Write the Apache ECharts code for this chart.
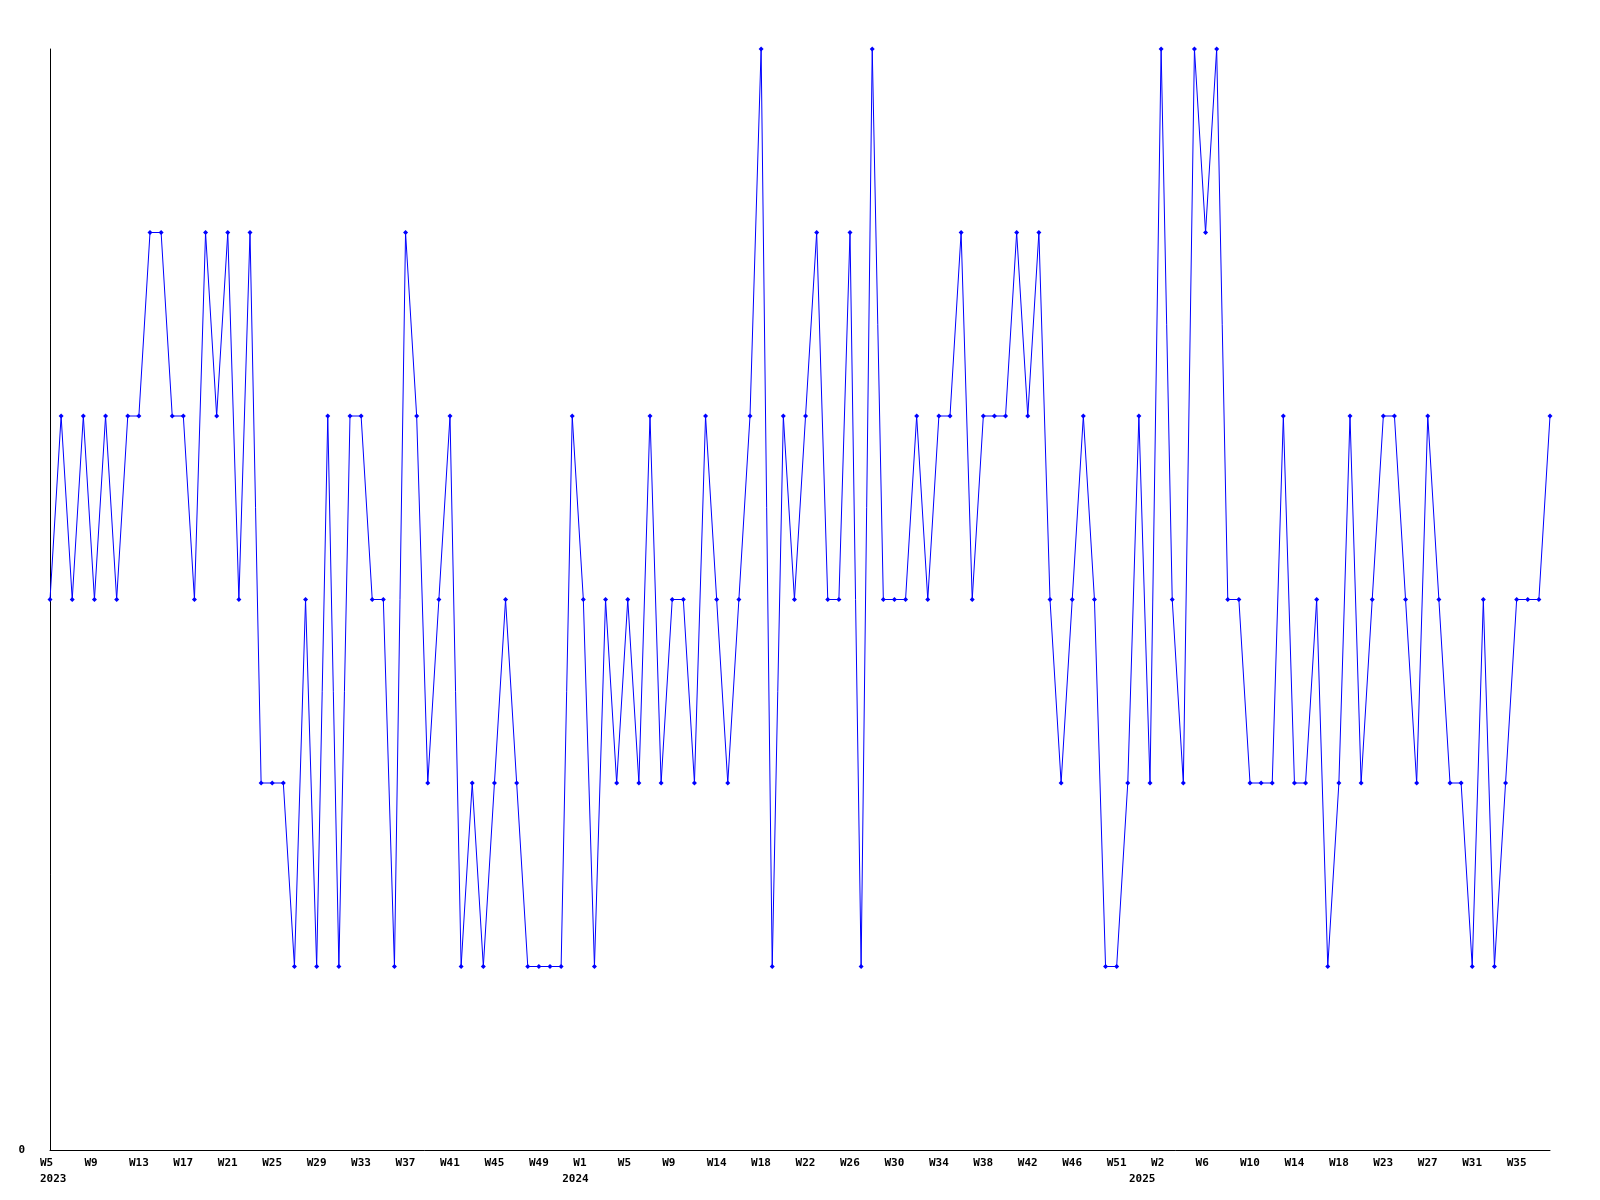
<!DOCTYPE html>
<html>
<head>
<meta charset="utf-8">
<script src="https://cdn.jsdelivr.net/npm/echarts@6/dist/echarts.min.js"></script>
<style>html,body{margin:0;padding:0;background:#fff;}#chart{width:1600px;height:1200px;}</style>
</head>
<body>
<div id="chart"></div>
<script>
// weekly values, 2023 W5 onward
const values = [
  3,4,3,4,3,4,3,4,4,5,
  5,4,4,3,5,4,5,3,5,2,
  2,2,1,3,1,4,1,4,4,3,
  3,1,5,4,2,3,4,1,2,1,
  2,3,2,1,1,1,1,4,3,1,
  3,2,3,2,4,2,3,3,2,4,
  3,2,3,4,6,1,4,3,4,5,
  3,3,5,1,6,3,3,3,4,3,
  4,4,5,3,4,4,4,5,4,5,
  3,2,3,4,3,1,1,2,4,2,
  6,3,2,6,5,6,3,3,2,2,
  2,4,2,2,3,1,2,4,2,3,
  4,4,3,2,4,3,2,2,1,3,
  1,2,3,3,3,4
];
// x tick labels, one every 4 points
const tickLabels = ['W5','W9','W13','W17','W21','W25','W29','W33','W37','W41','W45','W49',
  'W1','W5','W9','W14','W18','W22','W26','W30','W34','W38','W42','W46','W51',
  'W2','W6','W10','W14','W18','W23','W27','W31','W35'];
const tickStep = 4;
const yearLabels = ['2023','2024','2025'];
const yearIndex = [0,47,98];
const categories = values.map((v,i)=>'p'+i);

const font = {fontFamily:'DejaVu Sans Mono', fontWeight:'bold', fontSize:11, color:'#000'};
const chart = echarts.init(document.getElementById('chart'));
chart.setOption({
  animation:false,
  backgroundColor:'#fff',
  grid:{left:50,right:50,top:49,bottom:50,containLabel:false},
  xAxis:[{
    type:'category', data:categories, boundaryGap:false,
    axisLine:{show:true,lineStyle:{color:'#000',width:1}},
    axisTick:{show:false}, splitLine:{show:false},
    axisLabel:Object.assign({}, font, {
      margin:8, align:'left', padding:[0,0,0,-10],
      interval:(i)=> i % tickStep === 0,
      formatter:(v,i)=> tickLabels[i/tickStep] || ''
    })
  },{
    type:'category', data:categories, boundaryGap:false, position:'bottom',
    axisLine:{show:false}, axisTick:{show:false}, splitLine:{show:false},
    axisLabel:Object.assign({}, font, {
      margin:24, align:'left', padding:[0,0,0,-10],
      interval:(i)=> yearIndex.indexOf(i) >= 0,
      formatter:(v,i)=> { const k = yearIndex.indexOf(i); return k>=0 ? yearLabels[k] : ''; }
    })
  }],
  yAxis:{
    type:'value', min:0, max:6, interval:6,
    axisLine:{show:true,lineStyle:{color:'#000',width:1}},
    axisTick:{show:false}, splitLine:{show:false},
    axisLabel:Object.assign({}, font, {margin:25, formatter:(v)=> v===0 ? '0' : ''})
  },
  series:[{
    type:'line', data:values, xAxisIndex:0,
    lineStyle:{color:'#0000ff',width:1},
    itemStyle:{color:'#0000ff'},
    symbol:'diamond', symbolSize:5, showAllSymbol:true,
    clip:false
  }]
});
</script>
</body>
</html>
